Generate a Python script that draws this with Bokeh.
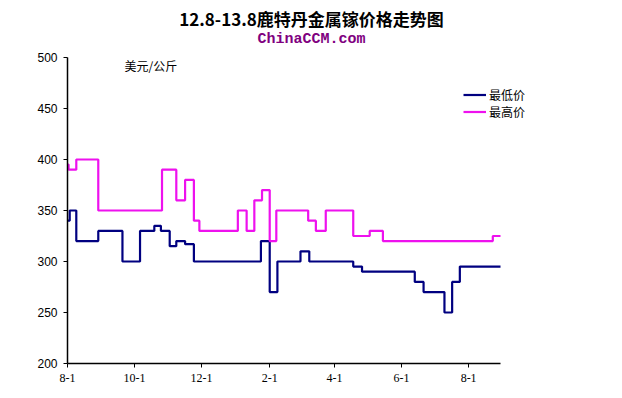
from datetime import datetime
import pandas as pd
from bokeh.plotting import figure
from bokeh.models import (Range1d, FixedTicker, DatetimeTickFormatter, Label,
                          Legend, LegendItem, ColumnDataSource)
from bokeh.embed import file_html
from bokeh.resources import INLINE

# ---- data ----
title_text = "12.8-13.8鹿特丹金属镓价格走势图"
subtitle_text = "ChinaCCM.com"
unit_text = "美元/公斤"
series_names = ["最低价", "最高价"]

low_dates = ["2012-08-01", "2012-08-03", "2012-08-09", "2012-08-29", "2012-09-20",
             "2012-10-06", "2012-10-19", "2012-10-25", "2012-11-02", "2012-11-08",
             "2012-11-16", "2012-11-24", "2013-01-24", "2013-02-01", "2013-02-08",
             "2013-03-01", "2013-03-09", "2013-04-18", "2013-04-26", "2013-06-13",
             "2013-06-21", "2013-07-10", "2013-07-17", "2013-07-24"]
low_vals = [340, 350, 320, 330, 300, 330, 335, 330, 315, 320, 317, 300, 320, 270,
            300, 310, 300, 295, 290, 280, 270, 250, 280, 295]

high_dates = ["2012-08-01", "2012-08-02", "2012-08-09", "2012-08-29", "2012-10-26",
              "2012-11-08", "2012-11-16", "2012-11-24", "2012-11-29", "2013-01-03",
              "2013-01-11", "2013-01-18", "2013-01-25", "2013-02-01", "2013-02-07",
              "2013-03-08", "2013-03-15", "2013-03-24", "2013-04-18", "2013-05-03",
              "2013-05-15", "2013-08-23"]
high_vals = [395, 390, 400, 350, 390, 360, 380, 340, 330, 350, 330, 360, 370, 320,
             350, 340, 330, 350, 325, 330, 320, 325]

end_date = "2013-08-30"
tick_dates = ["2012-08-01", "2012-10-01", "2012-12-01", "2013-02-01",
              "2013-04-01", "2013-06-01", "2013-08-01"]
y_ticks = [200, 250, 300, 350, 400, 450, 500]

# ---- layout constants ----
LOW_COLOR = "#000080"
HIGH_COLOR = "#EE11EE"
W, H = 622, 398
LEFT, BOTTOM = 67, 35           # frame starts here; frame spans to top/right edge
PLOT_W, PLOT_H = 433, 306       # pixel size of the visible axes box
frame_w, frame_h = W - LEFT, H - BOTTOM

x0 = pd.Timestamp(low_dates[0])
x1 = pd.Timestamp(end_date)
ms_per_px = (x1 - x0).total_seconds() * 1000 / PLOT_W
y_lo, y_hi = y_ticks[0], y_ticks[-1]
units_per_px = (y_hi - y_lo) / PLOT_H

p = figure(width=W, height=H, output_backend="svg", toolbar_location=None,
           x_axis_type="datetime", title=None,
           min_border_left=LEFT, min_border_right=0, min_border_top=0,
           min_border_bottom=BOTTOM)
p.x_range = Range1d(x0, x0 + pd.Timedelta(milliseconds=ms_per_px * frame_w))
p.y_range = Range1d(y_lo, y_lo + units_per_px * frame_h)
p.outline_line_color = None
p.grid.visible = False
p.background_fill_color = "white"
p.border_fill_color = "white"

def step_source(dates, vals):
    xs = list(pd.to_datetime(dates)) + [x1]
    ys = list(vals) + [vals[-1]]
    return ColumnDataSource(dict(x=xs, y=ys))

r_low = p.step("x", "y", source=step_source(low_dates, low_vals), mode="after",
               line_color=LOW_COLOR, line_width=2.2)
r_high = p.step("x", "y", source=step_source(high_dates, high_vals), mode="after",
                line_color=HIGH_COLOR, line_width=2.2)

# axes
p.xaxis.ticker = FixedTicker(ticks=[pd.Timestamp(d).value / 1e6 for d in tick_dates])
p.xaxis.formatter = DatetimeTickFormatter(days="%-m-%-d", months="%-m-%-d",
                                          years="%-m-%-d")
p.xaxis.bounds = (x0.value / 1e6, x1.value / 1e6)
p.yaxis.bounds = (y_lo, y_hi)
p.xaxis.minor_tick_line_color = None
p.yaxis.minor_tick_line_color = None
p.yaxis.ticker = FixedTicker(ticks=y_ticks)
for ax in (p.xaxis[0], p.yaxis[0]):
    ax.axis_line_color = "black"
    ax.axis_line_width = 1.5
    ax.major_tick_line_color = "black"
    ax.major_tick_in = 0
    ax.major_tick_out = 4
    ax.major_label_text_color = "black"
    ax.major_label_text_font_size = "12px"
p.xaxis.major_label_text_font = "Liberation Serif"
p.xaxis.major_label_standoff = 6
p.yaxis.major_label_text_font = "Liberation Sans"
p.yaxis.major_label_standoff = 6

# texts (screen units relative to plot frame: x from left, y up from bottom)
p.add_layout(Label(x=244, y=345, x_units="screen", y_units="screen", text=title_text,
                   text_font="Noto Sans CJK SC", text_font_style="bold",
                   text_font_size="17px", text_align="center", text_baseline="middle",
                   text_color="black"))
p.add_layout(Label(x=244, y=324, x_units="screen", y_units="screen", text=subtitle_text,
                   text_font="Liberation Mono", text_font_style="bold",
                   text_font_size="15px", text_align="center", text_baseline="middle",
                   text_color="#800080"))
p.add_layout(Label(x=57, y=298, x_units="screen", y_units="screen", text=unit_text,
                   text_font="Noto Sans CJK SC", text_font_size="12px",
                   text_align="left", text_baseline="middle", text_color="black"))

legend = Legend(items=[LegendItem(label=series_names[0], renderers=[r_low]),
                       LegendItem(label=series_names[1], renderers=[r_high])],
                location=(396, 243), orientation="vertical",
                background_fill_alpha=0, border_line_alpha=0,
                padding=0, margin=0, spacing=0,
                glyph_width=23, glyph_height=17, label_height=17,
                label_standoff=3,
                label_text_font="Noto Sans CJK SC", label_text_font_size="12px",
                label_text_color="black")
p.add_layout(legend)

open("out.html", "w").write(file_html(p, INLINE))
